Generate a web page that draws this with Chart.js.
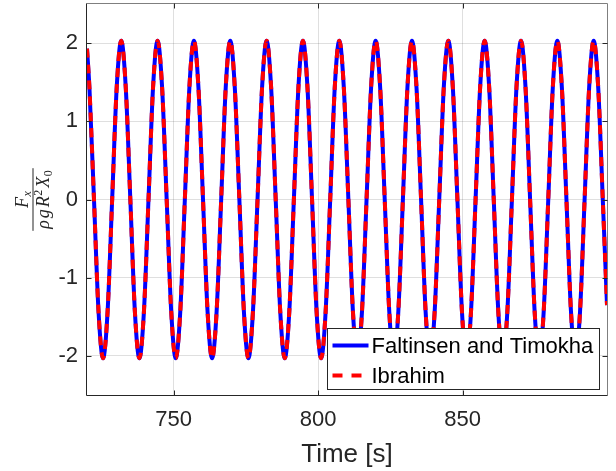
<!DOCTYPE html>
<html>
<head>
  <title>Sloshing force vs time</title>
  <style>
    html, body { margin: 0; padding: 0; background: #fff; }
    #wrap { width: 616px; height: 471px; }
  </style>
</head>
<body>
  <div id="wrap"><canvas id="forceChart" width="616" height="471"></canvas></div>

  <script src="https://cdn.jsdelivr.net/npm/chart.js@4.4.0/dist/chart.umd.js"></script>

  <script>
    // values (peaks, troughs, zero crossings and the points in between)
    const times = [
      720.00, 720.84, 722.42, 723.99, 725.56, 727.13, 728.71, 730.28,
      731.85, 733.42, 735.00, 736.57, 738.14, 739.71, 741.29, 742.86,
      744.43, 746.00, 747.58, 749.15, 750.72, 752.29, 753.87, 755.44,
      757.01, 758.58, 760.16, 761.73, 763.30, 764.87, 766.45, 768.02,
      769.59, 771.16, 772.74, 774.31, 775.88, 777.45, 779.03, 780.60,
      782.17, 783.74, 785.32, 786.89, 788.46, 790.03, 791.61, 793.18,
      794.75, 796.32, 797.90, 799.47, 801.04, 802.61, 804.19, 805.76,
      807.33, 808.90, 810.48, 812.05, 813.62, 815.19, 816.77, 818.34,
      819.91, 821.48, 823.06, 824.63, 826.20, 827.77, 829.35, 830.92,
      832.49, 834.06, 835.64, 837.21, 838.78, 840.35, 841.93, 843.50,
      845.07, 846.64, 848.22, 849.79, 851.36, 852.93, 854.51, 856.08,
      857.65, 859.22, 860.80, 862.37, 863.94, 865.51, 867.09, 868.66,
      870.23, 871.80, 873.38, 874.95, 876.52, 878.09, 879.67, 881.24,
      882.81, 884.38, 885.96, 887.53, 889.10, 890.67, 892.25, 893.82,
      895.39, 896.96, 898.54, 900.00
    ];
    const faltinsen = [
      1.93, 1.43, 0, -1.43, -2.03, -1.43, 0, 1.43,
      2.03, 1.43, 0, -1.43, -2.03, -1.43, 0, 1.43,
      2.03, 1.43, 0, -1.43, -2.03, -1.43, 0, 1.43,
      2.03, 1.43, 0, -1.43, -2.03, -1.43, 0, 1.43,
      2.03, 1.43, 0, -1.43, -2.03, -1.43, 0, 1.43,
      2.03, 1.43, 0, -1.43, -2.03, -1.43, 0, 1.43,
      2.03, 1.43, 0, -1.43, -2.03, -1.43, 0, 1.43,
      2.03, 1.43, 0, -1.43, -2.03, -1.43, 0, 1.43,
      2.03, 1.43, 0, -1.43, -2.03, -1.43, 0, 1.43,
      2.03, 1.43, 0, -1.43, -2.03, -1.43, 0, 1.43,
      2.03, 1.43, 0, -1.43, -2.03, -1.43, 0, 1.43,
      2.03, 1.43, 0, -1.43, -2.03, -1.43, 0, 1.43,
      2.03, 1.43, 0, -1.43, -2.03, -1.43, 0, 1.43,
      2.03, 1.43, 0, -1.43, -2.03, -1.43, 0, 1.43,
      2.03, 1.43, 0, -1.35
    ];
    const ibrahim = [
      1.93, 1.43, 0, -1.43, -2.03, -1.43, 0, 1.43,
      2.03, 1.43, 0, -1.43, -2.03, -1.43, 0, 1.43,
      2.03, 1.43, 0, -1.43, -2.03, -1.43, 0, 1.43,
      2.03, 1.43, 0, -1.43, -2.03, -1.43, 0, 1.43,
      2.03, 1.43, 0, -1.43, -2.03, -1.43, 0, 1.43,
      2.03, 1.43, 0, -1.43, -2.03, -1.43, 0, 1.43,
      2.03, 1.43, 0, -1.43, -2.03, -1.43, 0, 1.43,
      2.03, 1.43, 0, -1.43, -2.03, -1.43, 0, 1.43,
      2.03, 1.43, 0, -1.43, -2.03, -1.43, 0, 1.43,
      2.03, 1.43, 0, -1.43, -2.03, -1.43, 0, 1.43,
      2.03, 1.43, 0, -1.43, -2.03, -1.43, 0, 1.43,
      2.03, 1.43, 0, -1.43, -2.03, -1.43, 0, 1.43,
      2.03, 1.43, 0, -1.43, -2.03, -1.43, 0, 1.43,
      2.03, 1.43, 0, -1.43, -2.03, -1.43, 0, 1.43,
      2.03, 1.43, 0, -1.35
    ];
    const xTicks = [750, 800, 850];
    const yTicks = [-2, -1, 0, 1, 2];
    const seriesNames = ['Faltinsen and Timokha', 'Ibrahim'];

    const sans = '"Liberation Sans", Arial, Helvetica, sans-serif';
    const serif = '"Liberation Serif", "Times New Roman", serif';
    const axisColor = '#262626';
    const gridColor = 'rgba(38,38,38,0.15)';
    const blue = '#0000ff';
    const red = '#ff0000';
    const dash = [9, 7];
    const legendDash = [10, 9];

    function toPoints(ys) {
      return times.map((t, i) => ({ x: t, y: ys[i] }));
    }

    // draws a row of math pieces centred on u=0 (in the rotated frame)
    function drawMath(ctx, parts, v) {
      let w = 0;
      parts.forEach(p => {
        ctx.font = p.font;
        p.w = ctx.measureText(p.t).width + (p.gap || 0);
        w += p.w;
      });
      let u = -w / 2;
      parts.forEach(p => {
        ctx.font = p.font;
        ctx.fillText(p.t, u, v + (p.dy || 0));
        u += p.w;
      });
      return w;
    }

    const matlabAxes = {
      id: 'matlabAxes',
      afterDatasetsDraw(chart) {
        const { ctx, chartArea: a, scales: { x, y } } = chart;
        ctx.save();
        ctx.lineWidth = 1;

        // box, top/right lighter like the reference
        const L = Math.round(a.left) - 0.5, R = Math.round(a.right) + 0.5;
        const T = Math.round(a.top) - 0.5, B = Math.round(a.bottom) + 0.5;
        ctx.strokeStyle = '#7f7f7f';
        ctx.beginPath();
        ctx.moveTo(L, T); ctx.lineTo(R, T); ctx.lineTo(R, B);
        ctx.stroke();
        ctx.strokeStyle = axisColor;
        ctx.beginPath();
        ctx.moveTo(L, T); ctx.lineTo(L, B); ctx.lineTo(R, B);
        ctx.stroke();

        // inward tick marks on all four sides
        ctx.beginPath();
        yTicks.forEach(v => {
          const py = Math.round(y.getPixelForValue(v)) + 0.5;
          ctx.moveTo(L, py); ctx.lineTo(L + 5, py);
          ctx.moveTo(R, py); ctx.lineTo(R - 5, py);
        });
        xTicks.forEach(v => {
          const px = Math.round(x.getPixelForValue(v)) + 0.5;
          ctx.moveTo(px, B); ctx.lineTo(px, B - 5);
          ctx.moveTo(px, T); ctx.lineTo(px, T + 5);
        });
        ctx.stroke();

        // y label: F_x / (rho g R^2 X_0), rotated
        ctx.translate(33, (a.top + a.bottom) / 2);
        ctx.rotate(-Math.PI / 2);
        ctx.fillStyle = axisColor;
        ctx.textBaseline = 'alphabetic';
        ctx.textAlign = 'left';
        const it = 'italic 18px ' + serif;
        const sub = 'italic 12px ' + serif;
        const up = '12px ' + serif;
        drawMath(ctx, [
          { t: 'F', font: it, gap: 0.5 },
          { t: 'x', font: sub, dy: 3 }
        ], -5);
        const dw = drawMath(ctx, [
          { t: 'ρ', font: it, gap: 2 },
          { t: 'g', font: it, gap: 2 },
          { t: 'R', font: it, gap: 0.5 },
          { t: '2', font: up, dy: -7, gap: 2 },
          { t: 'X', font: it, gap: 0.5 },
          { t: '0', font: up, dy: 3 }
        ], 16);
        ctx.fillRect(-dw / 2 - 2, -0.5, dw + 4, 1);
        ctx.restore();
      },
      afterDraw(chart) {
        const { ctx, chartArea: a } = chart;
        ctx.save();
        // legend box in the lower right corner
        const bx = Math.round(a.right) - 279.5, by = Math.round(a.bottom) - 66.5;
        const bw = 272, bh = 61;
        ctx.fillStyle = '#fff';
        ctx.fillRect(bx, by, bw, bh);
        ctx.strokeStyle = axisColor;
        ctx.lineWidth = 1;
        ctx.strokeRect(bx, by, bw, bh);

        const rows = [by + 17, by + 47];
        const styles = [{ c: blue, d: [] }, { c: red, d: legendDash }];
        ctx.lineWidth = 4;
        ctx.font = '22px ' + sans;
        ctx.textBaseline = 'middle';
        ctx.textAlign = 'left';
        seriesNames.forEach((name, i) => {
          ctx.strokeStyle = styles[i].c;
          ctx.setLineDash(styles[i].d);
          ctx.beginPath();
          ctx.moveTo(bx + 5, rows[i]);
          ctx.lineTo(bx + 41, rows[i]);
          ctx.stroke();
          ctx.fillStyle = '#000';
          ctx.fillText(name, bx + 44, rows[i] + 1);
        });
        ctx.restore();
      }
    };

    const ctx = document.getElementById('forceChart').getContext('2d');
    new Chart(ctx, {
      type: 'line',
      data: {
        datasets: [
          {
            label: seriesNames[0],
            data: toPoints(faltinsen),
            borderColor: blue,
            borderWidth: 4,
            pointRadius: 0,
            cubicInterpolationMode: 'monotone',
            fill: false,
            order: 2,
            clip: 1
          },
          {
            label: seriesNames[1],
            data: toPoints(ibrahim),
            borderColor: red,
            borderWidth: 4,
            borderDash: dash,
            pointRadius: 0,
            cubicInterpolationMode: 'monotone',
            fill: false,
            order: 1,
            clip: 1
          }
        ]
      },
      options: {
        responsive: false,
        animation: false,
        devicePixelRatio: 1,
        layout: { padding: { top: 4, right: 9, left: 0, bottom: 0 } },
        plugins: { legend: { display: false }, tooltip: { enabled: false } },
        scales: {
          x: {
            type: 'linear',
            min: 720,
            max: 900,
            afterBuildTicks: s => { s.ticks = xTicks.map(v => ({ value: v })); },
            afterFit: s => { s.height = 76; s.paddingLeft = 0; s.paddingRight = 0; },
            grid: { color: gridColor, drawTicks: false },
            border: { display: false },
            ticks: { padding: 12, color: axisColor, maxRotation: 0, font: { size: 22, family: sans } },
            title: {
              display: true,
              text: 'Time [s]',
              color: axisColor,
              font: { size: 26, family: sans },
              padding: { top: 0, bottom: 1 }
            }
          },
          y: {
            type: 'linear',
            min: -2.5,
            max: 2.5,
            afterBuildTicks: s => { s.ticks = yTicks.map(v => ({ value: v })); },
            afterFit: s => { s.width = 87; s.paddingTop = 0; s.paddingBottom = 0; },
            grid: { color: gridColor, drawTicks: false },
            border: { display: false },
            ticks: { padding: 9, color: axisColor, font: { size: 22, family: sans } }
          }
        }
      },
      plugins: [matlabAxes]
    });
  </script>
</body>
</html>
